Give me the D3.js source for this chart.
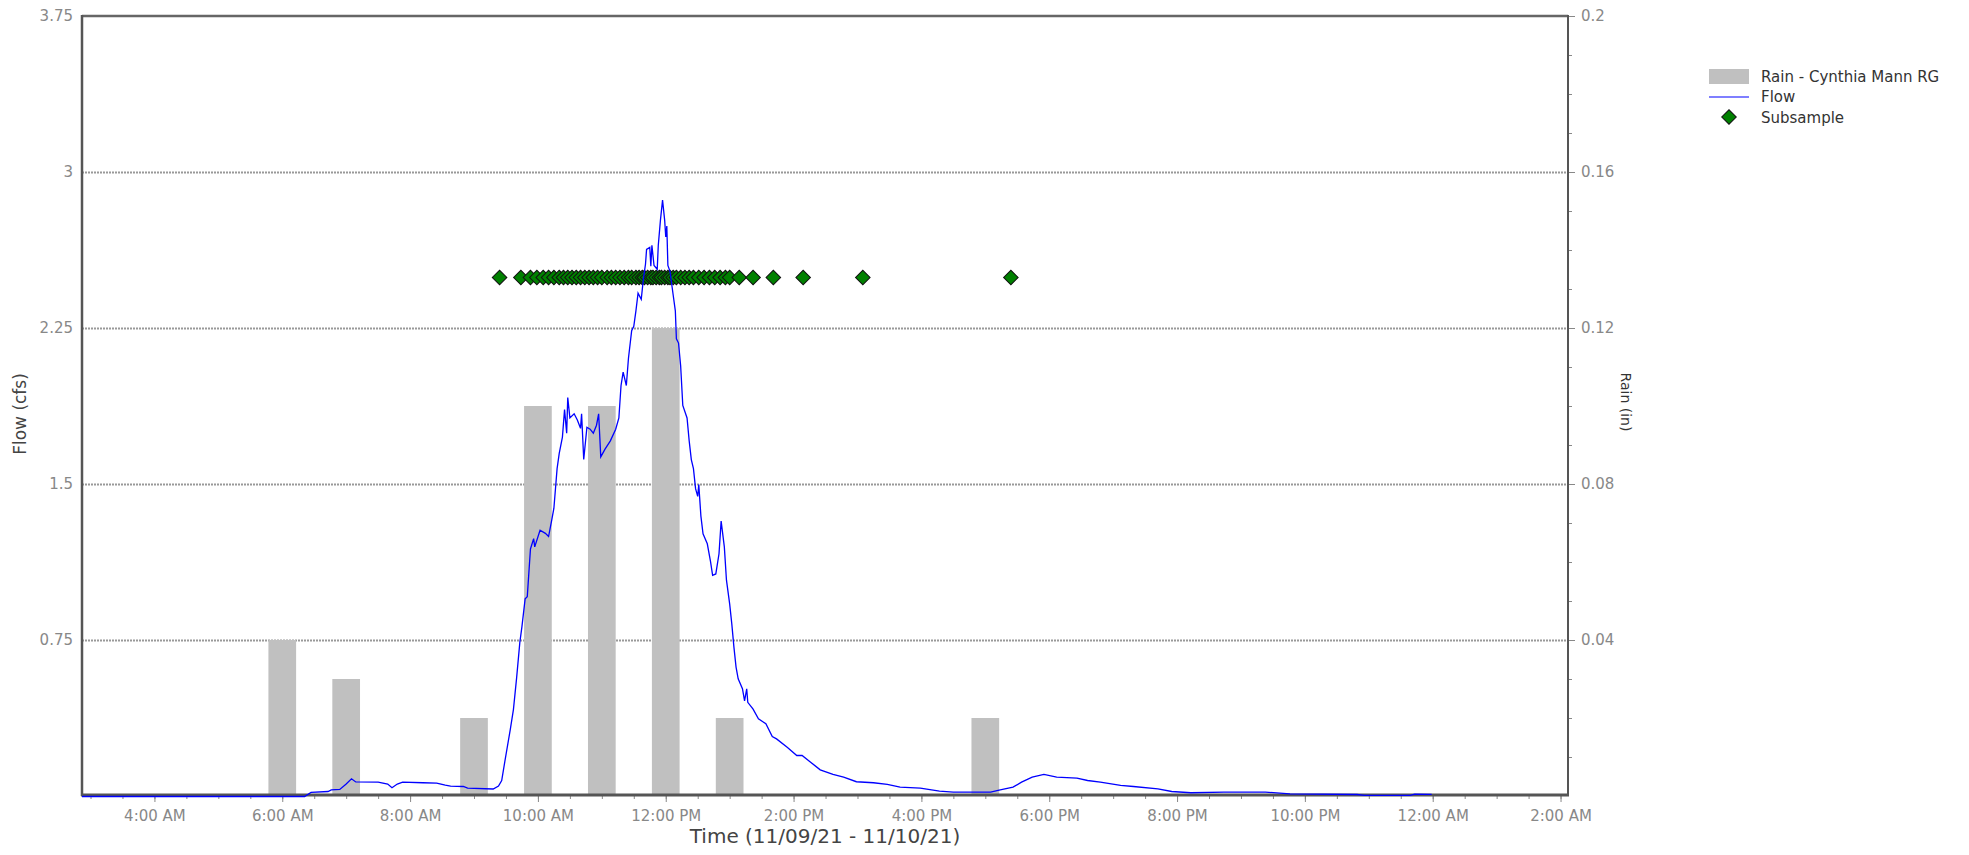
<!DOCTYPE html>
<html lang="en">
<head>
<meta charset="UTF-8">
<title>Hydrograph</title>
<script src="https://d3js.org/d3.v7.min.js"></script>
<style>
  body { margin: 0; background: #fff; }
  svg text { font-family: "DejaVu Sans", Verdana, sans-serif; }
  .tick text { fill: #888; font-size: 15px; }
  .tick line { stroke: #888; }
  .domain { stroke: none; }
  .gridlines line { stroke: #999; stroke-width: 2; stroke-dasharray: 2,1; }
</style>
</head>
<body>
<svg class="hydro" width="1969" height="855"></svg>
<script>
  // rain (inches per hour, bar centred on the hour)
  const rainTimes = ["06:00", "07:00", "09:00", "10:00", "11:00", "12:00", "13:00", "17:00"];
  const rainValues = [0.04, 0.03, 0.02, 0.10, 0.10, 0.12, 0.02, 0.02];

  // flow (cfs)
  const flowTimes = ["02:52", "06:21", "06:27", "06:43", "06:46", "06:54", "07:00", "07:05", "07:09", "07:30",
    "07:39", "07:43", "07:48", "07:53", "08:12", "08:25", "08:33", "08:38", "08:50", "08:54",
    "09:18", "09:23", "09:26", "09:29", "09:34", "09:37", "09:40", "09:43", "09:45", "09:48",
    "09:50", "09:53", "09:56", "09:57", "10:02", "10:07", "10:10", "10:13", "10:15", "10:18",
    "10:20", "10:23", "10:25", "10:27", "10:28", "10:30", "10:34", "10:37", "10:40", "10:41",
    "10:43", "10:46", "10:49", "10:52", "10:55", "10:57", "10:59", "11:03", "11:08", "11:13",
    "11:16", "11:18", "11:20", "11:23", "11:25", "11:28", "11:30", "11:32", "11:34", "11:37",
    "11:39", "11:41", "11:42", "11:45", "11:46", "11:47", "11:49", "11:52", "11:53", "11:55",
    "11:57", "11:59", "12:00", "12:01", "12:02", "12:04", "12:07", "12:09", "12:10", "12:12",
    "12:14", "12:16", "12:20", "12:22", "12:24", "12:26", "12:28", "12:30", "12:31", "12:33",
    "12:35", "12:39", "12:42", "12:44", "12:47", "12:50", "12:52", "12:55", "12:57", "13:00",
    "13:02", "13:04", "13:06", "13:08", "13:12", "13:14", "13:16", "13:17", "13:22", "13:27",
    "13:34", "13:40", "13:44", "13:54", "14:03", "14:08", "14:16", "14:25", "14:37", "14:47",
    "14:59", "15:15", "15:28", "15:40", "15:59", "16:17", "16:30", "17:05", "17:14", "17:26",
    "17:34", "17:44", "17:55", "18:07", "18:26", "18:36", "18:48", "19:07", "19:19", "19:42",
    "19:55", "20:13", "20:44", "21:23", "21:46", "22:49", "22:56", "23:39", "23:43", "23:59"];
  const flowValues = [0, 0, 0.02, 0.024, 0.032, 0.034, 0.06, 0.085, 0.07, 0.069,
    0.06, 0.042, 0.06, 0.069, 0.066, 0.064, 0.055, 0.05, 0.048, 0.04,
    0.036, 0.05, 0.077, 0.17, 0.32, 0.418, 0.57, 0.74, 0.817, 0.95,
    0.96, 1.19, 1.24, 1.2, 1.28, 1.265, 1.25, 1.33, 1.386, 1.576,
    1.65, 1.728, 1.86, 1.747, 1.918, 1.82, 1.84, 1.81, 1.77, 1.84,
    1.62, 1.775, 1.766, 1.747, 1.785, 1.84, 1.633, 1.67, 1.71, 1.766,
    1.82, 1.975, 2.04, 1.976, 2.107, 2.24, 2.26, 2.335, 2.42, 2.39,
    2.487, 2.56, 2.63, 2.64, 2.55, 2.65, 2.553, 2.535, 2.65, 2.77,
    2.867, 2.77, 2.69, 2.743, 2.553, 2.525, 2.41, 2.335, 2.2, 2.18,
    2.07, 1.88, 1.82, 1.71, 1.62, 1.576, 1.48, 1.443, 1.5, 1.348,
    1.263, 1.215, 1.13, 1.063, 1.07, 1.167, 1.324, 1.2, 1.04, 0.926,
    0.83, 0.718, 0.622, 0.566, 0.518, 0.46, 0.518, 0.453, 0.42, 0.373,
    0.35, 0.288, 0.277, 0.237, 0.197, 0.197, 0.165, 0.128, 0.106, 0.093,
    0.071, 0.066, 0.058, 0.045, 0.04, 0.026, 0.021, 0.021, 0.032, 0.045,
    0.069, 0.093, 0.106, 0.093, 0.088, 0.077, 0.069, 0.053, 0.048, 0.037,
    0.024, 0.018, 0.021, 0.021, 0.013, 0.0096, 0.005, 0.005, 0.011, 0.01];

  // subsample times, all plotted at 2.5 cfs
  const subsampleTimes = ["09:24", "09:44", "09:53", "09:59", "10:05", "10:10", "10:15", "10:20", "10:24", "10:28",
    "10:32", "10:36", "10:40", "10:44", "10:48", "10:52", "10:56", "11:00", "11:05", "11:09",
    "11:13", "11:17", "11:21", "11:25", "11:28", "11:32", "11:35", "11:38", "11:40", "11:43",
    "11:46", "11:48", "11:51", "11:54", "11:56", "11:59", "12:02", "12:04", "12:07", "12:10",
    "12:14", "12:18", "12:22", "12:26", "12:31", "12:36", "12:41", "12:46", "12:51", "12:56",
    "13:00", "13:09", "13:22", "13:41", "14:09", "15:05", "17:24"];
  const subsampleLevel = 2.5;

  const flowTicks = [0.75, 1.5, 2.25, 3, 3.75];
  const rainTicks = [0.04, 0.08, 0.12, 0.16, 0.2];
  const rainMinorTicks = [0.01, 0.02, 0.03, 0.05, 0.06, 0.07, 0.09, 0.1, 0.11, 0.13, 0.14, 0.15, 0.17, 0.18, 0.19];
  const timeDomain = ["2021-11-09 02:52", "2021-11-10 02:07"];
  const day = "2021-11-09";

  const parseFull = d3.timeParse("%Y-%m-%d %H:%M");
  const parseT = s => parseFull(day + " " + s);

  const svg = d3.select('svg.hydro');
  const plot = { left: 82, right: 1568, top: 16, bottom: 796 };

  const xScale = d3.scaleTime().domain(timeDomain.map(parseFull)).range([plot.left, plot.right]);
  const yFlow = d3.scaleLinear().domain([0, 3.75]).range([plot.bottom, plot.top]);
  const yRain = d3.scaleLinear().domain([0, 0.2]).range([plot.bottom, plot.top]);

  // gridlines
  svg.append('g')
    .attr('class', 'gridlines')
    .attr('transform', `translate(${plot.left},0)`)
    .call(d3.axisLeft(yFlow).tickValues(flowTicks.slice(0, 4)).tickSize(-(plot.right - plot.left)).tickFormat(''));

  // rain bars
  svg.append('g').selectAll('rect')
    .data(rainTimes.map((t, i) => ({ t: parseT(t), v: rainValues[i] })))
    .join('rect')
    .attr('x', d => xScale(d3.timeMinute.offset(d.t, -13)))
    .attr('width', d => xScale(d3.timeMinute.offset(d.t, 13)) - xScale(d3.timeMinute.offset(d.t, -13)))
    .attr('y', d => yRain(d.v))
    .attr('height', d => yRain(0) - yRain(d.v))
    .attr('fill', '#c0c0c0');

  // axes
  svg.append('g')
    .attr('transform', `translate(0,${plot.bottom})`)
    .call(d3.axisBottom(xScale).ticks(d3.timeMinute.every(30)).tickSize(3).tickFormat(''));
  svg.append('g')
    .attr('transform', `translate(0,${plot.bottom})`)
    .call(d3.axisBottom(xScale).ticks(d3.timeHour.every(2)).tickSize(6).tickPadding(8)
      .tickFormat(d3.timeFormat('%-I:%M %p')));

  svg.append('g')
    .attr('transform', `translate(${plot.left},0)`)
    .call(d3.axisLeft(yFlow).tickValues(flowTicks).tickSize(0).tickPadding(9).tickFormat(d3.format('~g')));

  svg.append('g')
    .attr('transform', `translate(${plot.right},0)`)
    .call(d3.axisRight(yRain).tickValues(rainMinorTicks).tickSize(4).tickFormat(''));
  svg.append('g')
    .attr('transform', `translate(${plot.right},0)`)
    .call(d3.axisRight(yRain).tickValues(rainTicks).tickSize(7).tickPadding(6).tickFormat(d3.format('~g')));

  // frame
  svg.append('line').attr('x1', plot.left).attr('x2', plot.right).attr('y1', plot.top).attr('y2', plot.top)
    .attr('stroke', '#666').attr('stroke-width', 2.5);
  svg.append('line').attr('x1', plot.left).attr('x2', plot.left).attr('y1', plot.top - 1).attr('y2', plot.bottom)
    .attr('stroke', '#555').attr('stroke-width', 2.5);
  svg.append('line').attr('x1', plot.right).attr('x2', plot.right).attr('y1', plot.top - 1).attr('y2', plot.bottom)
    .attr('stroke', '#555').attr('stroke-width', 2);
  svg.append('line').attr('x1', plot.left - 1).attr('x2', plot.right + 1).attr('y1', plot.bottom - 1).attr('y2', plot.bottom - 1)
    .attr('stroke', '#555').attr('stroke-width', 3);

  // subsample diamonds
  const diamond = d3.symbol(d3.symbolSquare, 106)();
  svg.append('g').selectAll('path')
    .data(subsampleTimes.map(parseT))
    .join('path')
    .attr('d', diamond)
    .attr('transform', d => `translate(${xScale(d)},${yFlow(subsampleLevel) + 1.5}) rotate(45)`)
    .attr('fill', '#008000')
    .attr('stroke', '#111')
    .attr('stroke-width', 1);

  // flow line
  const flowData = flowTimes.map((t, i) => ({ t: parseT(t), v: flowValues[i] }));
  svg.append('path')
    .datum(flowData)
    .attr('fill', 'none')
    .attr('stroke', '#0000ff')
    .attr('stroke-width', 1.3)
    .attr('d', d3.line().x(d => xScale(d.t)).y(d => yFlow(d.v) + 0.5));

  // axis titles
  svg.append('text')
    .attr('transform', 'translate(20,414) rotate(-90)')
    .attr('text-anchor', 'middle').attr('dominant-baseline', 'central')
    .style('font-size', '17px').style('fill', '#444')
    .text('Flow (cfs)');
  svg.append('text')
    .attr('x', (plot.left + plot.right) / 2).attr('y', 843)
    .attr('text-anchor', 'middle')
    .style('font-size', '20px').style('fill', '#444')
    .text('Time (11/09/21 - 11/10/21)');
  svg.append('text')
    .attr('transform', 'translate(1626,402) rotate(90)')
    .attr('text-anchor', 'middle').attr('dominant-baseline', 'central')
    .style('font-size', '14px').style('fill', '#333')
    .text('Rain (in)');

  // legend
  const legend = svg.append('g').attr('transform', 'translate(1709,0)');
  legend.append('rect').attr('x', 0).attr('y', 69).attr('width', 40).attr('height', 15).attr('fill', '#c0c0c0');
  legend.append('line').attr('x1', 0).attr('x2', 40).attr('y1', 97).attr('y2', 97)
    .attr('stroke', '#5555ff').attr('stroke-width', 1.5);
  legend.append('path').attr('d', diamond).attr('transform', 'translate(20,117) rotate(45)')
    .attr('fill', '#008000').attr('stroke', '#111');
  [['Rain - Cynthia Mann RG', 82], ['Flow', 102], ['Subsample', 123]].forEach(([label, y]) => {
    legend.append('text').attr('x', 52).attr('y', y)
      .style('font-size', '15px').style('fill', '#333').text(label);
  });
</script>
</body>
</html>
